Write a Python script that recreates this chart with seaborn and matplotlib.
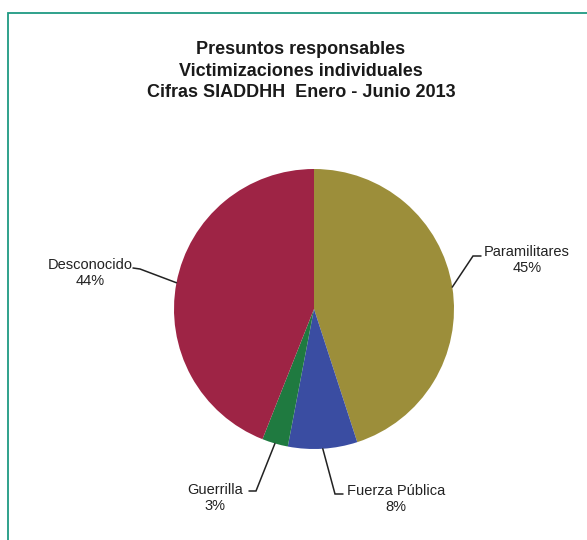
import numpy as np
import seaborn as sns
import matplotlib.pyplot as plt
from matplotlib.patches import Rectangle

# Datos del gráfico
categorias = ["Paramilitares", "Fuerza Pública", "Guerrilla", "Desconocido"]
porcentajes = [45, 8, 3, 44]
colores = ["#9c8e3a", "#3a4da2", "#1f7a40", "#9e2445"]
titulo = "Presuntos responsables\nVictimizaciones individuales\nCifras SIADDHH  Enero - Junio 2013"

sns.set_theme(style="white")
plt.rcParams["font.family"] = ["Liberation Sans", "DejaVu Sans"]

H = 540
fig = plt.figure(figsize=(5.87, 5.40), dpi=100)
ax = fig.add_axes([0, 0, 1, 1])

# Marco verde azulado
ax.add_patch(Rectangle((7.5, -10), 600, H - 12.5 + 10, fill=False,
                       edgecolor="#1f9a82", linewidth=1.3))

centro = (314, H - 309)
radio = 140
ax.pie(porcentajes, colors=colores, startangle=90, counterclock=False,
       center=centro, radius=radio, frame=True,
       wedgeprops=dict(linewidth=0))
ax.set_xlim(0, 587)
ax.set_ylim(0, H)
ax.set_aspect("equal")
ax.axis("off")

# Líneas guía: codo, extremo y centro del texto (en píxeles desde arriba)
guias = [
    ((473, 256), (481, 256), (527, 260)),
    ((335, 494), (343, 494), (396, 499)),
    ((256, 491), (249, 491), (215, 498)),
    ((140, 269), (133, 268), (90, 273)),
]

acumulado = 0
for cat, pct, (codo, fin, pos_txt) in zip(categorias, porcentajes, guias):
    medio = 90 - (acumulado + pct / 2) * 3.6
    acumulado += pct
    ang = np.deg2rad(medio)
    ancla = (centro[0] + radio * np.cos(ang), centro[1] + radio * np.sin(ang))
    ax.plot([ancla[0], codo[0], fin[0]], [ancla[1], H - codo[1], H - fin[1]],
            color="#222222", linewidth=1.1, solid_joinstyle="miter")
    ax.text(pos_txt[0], H - pos_txt[1], f"{cat}\n{pct}%", ha="center",
            va="center", fontsize=10.5, color="#222222", linespacing=1.18)

ax.text(301, H - 71, titulo, ha="center", va="center", fontsize=13,
        fontweight="bold", color="#1a1a1a", linespacing=1.31)

fig.savefig("out.png", dpi=100)
